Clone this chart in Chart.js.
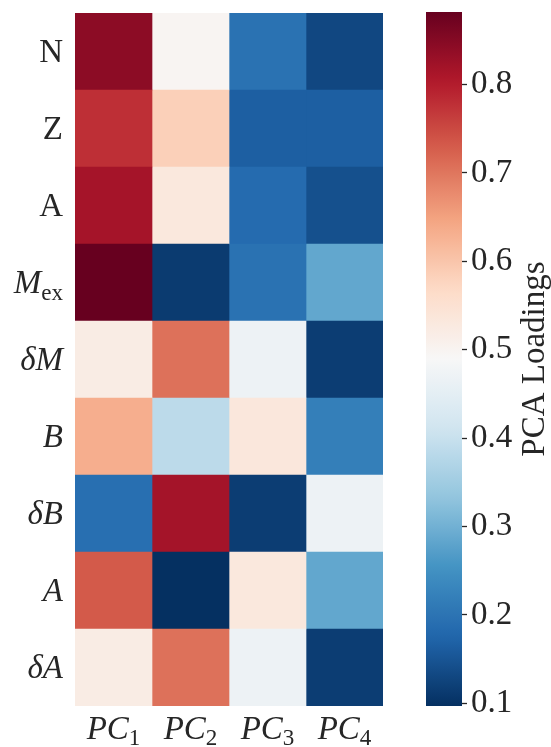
<!DOCTYPE html>
<html>
<head>
<meta charset="utf-8">
<script src="https://cdn.jsdelivr.net/npm/chart.js@4/dist/chart.umd.min.js"></script>
<style>
  html, body { margin: 0; padding: 0; background: #ffffff; }
  #wrap { position: relative; width: 551px; height: 747px; overflow: hidden; }
  #heat { position: absolute; left: 0; top: 0; }
  #cbar { position: absolute; left: 400px; top: 0; }
</style>
</head>
<body>
<div id="wrap">
  <canvas id="heat" width="420" height="747"></canvas>
  <canvas id="cbar" width="151" height="747"></canvas>
</div>
<script>
// Feature names (rows) and principal components (columns)
const rowLabels = ['N', 'Z', 'A', '$M_{\\rm ex}$', '$\\delta M$', '$B$', '$\\delta B$', '$A$', '$\\delta A$'];
const colLabels = ['$PC_1$', '$PC_2$', '$PC_3$', '$PC_4$'];

// Loadings of each feature on each component
const pc1 = [0.843, 0.778, 0.817, 0.882, 0.520, 0.633, 0.192, 0.731, 0.520];
const pc2 = [0.497, 0.584, 0.532, 0.113, 0.706, 0.385, 0.818, 0.097, 0.706];
const pc3 = [0.196, 0.165, 0.185, 0.196, 0.469, 0.534, 0.116, 0.532, 0.469];
const pc4 = [0.131, 0.165, 0.143, 0.285, 0.116, 0.219, 0.469, 0.285, 0.116];

// Colour bar ticks and title
const cbarTicks = [0.1, 0.2, 0.3, 0.4, 0.5, 0.6, 0.7, 0.8];
const cbarTitle = 'PCA Loadings';

const components = [pc1, pc2, pc3, pc4];
const allVals = components.flat();
const vmin = Math.min(...allVals);
const vmax = Math.max(...allVals);

// RdBu_r colour map (ColorBrewer RdBu, reversed: low = blue, high = red)
const RDBU_R = [
  [5, 48, 97], [33, 102, 172], [67, 147, 195], [146, 197, 222], [209, 229, 240],
  [247, 247, 247], [253, 219, 199], [244, 165, 130], [214, 96, 77], [178, 24, 43], [103, 0, 31]
];
function cmap(t) {
  t = Math.min(1, Math.max(0, t));
  const p = t * (RDBU_R.length - 1);
  const i = Math.min(RDBU_R.length - 2, Math.floor(p));
  const f = p - i;
  const a = RDBU_R[i], b = RDBU_R[i + 1];
  const c = a.map((v, k) => Math.round(v + (b[k] - v) * f));
  return `rgb(${c[0]},${c[1]},${c[2]})`;
}
const colorOf = v => cmap((v - vmin) / (vmax - vmin));

const TEXT = '#262626';
const FONT_FAMILY = '"Liberation Serif", "Times New Roman", serif';
const FONT_SIZE = 33;

// Tiny math-label parser: letters inside $...$ are italic, _x / _{..} are subscripts
function parseLabel(s) {
  const segs = [];
  const push = (txt, italic, sub) => {
    const last = segs[segs.length - 1];
    if (last && last.italic === italic && last.sub === sub) last.text += txt;
    else segs.push({ text: txt, italic, sub });
  };
  let math = false, i = 0;
  while (i < s.length) {
    const ch = s[i];
    if (ch === '$') { math = !math; i++; continue; }
    if (!math) { push(ch, false, false); i++; continue; }
    if (s.startsWith('\\delta', i)) { push('\u03B4', true, false); i += 6; continue; }
    if (ch === ' ') { i++; continue; }
    if (ch === '_') {
      i++;
      let body;
      if (s[i] === '{') { const j = s.indexOf('}', i); body = s.slice(i + 1, j); i = j + 1; }
      else { body = s[i]; i++; }
      const upright = body.startsWith('\\rm');
      body = body.replace('\\rm', '').trim();
      for (const c of body) push(c, !upright && /[A-Za-z]/.test(c), true);
      continue;
    }
    push(ch, /[A-Za-z]/.test(ch), false);
    i++;
  }
  return segs;
}

function segFont(seg) {
  const size = seg.sub ? FONT_SIZE * 0.7 : FONT_SIZE;
  return `${seg.italic ? 'italic ' : ''}${size}px ${FONT_FAMILY}`;
}

// Draw a parsed label; align = 'right' | 'center', y is the vertical middle
function drawLabel(ctx, label, x, y, align) {
  const segs = parseLabel(label);
  let total = 0;
  const widths = segs.map(sg => { ctx.font = segFont(sg); const w = ctx.measureText(sg.text).width; total += w; return w; });
  let cx = align === 'right' ? x - total : x - total / 2;
  const baseline = y + FONT_SIZE * 0.33;
  ctx.save();
  ctx.fillStyle = TEXT;
  ctx.textBaseline = 'alphabetic';
  ctx.textAlign = 'left';
  segs.forEach((sg, k) => {
    ctx.font = segFont(sg);
    const by = sg.sub ? baseline + FONT_SIZE * 0.2 : baseline;
    ctx.fillText(sg.text, cx, by);
    cx += widths[k];
  });
  ctx.restore();
}

// Axis labels of the heat map, placed from the chart's own scales
const heatLabels = {
  id: 'heatLabels',
  afterDraw(chart) {
    const { ctx, chartArea, scales } = chart;
    rowLabels.forEach((lab, i) => {
      drawLabel(ctx, lab, chartArea.left - 12, scales.y.getPixelForValue(i), 'right');
    });
    colLabels.forEach((lab, c) => {
      drawLabel(ctx, lab, scales.x.getPixelForValue(c + 0.5), chartArea.bottom + 22, 'center');
    });
  }
};

// Heat map: one floating-bar dataset per component, one bar per feature
new Chart(document.getElementById('heat'), {
  type: 'bar',
  data: {
    labels: rowLabels,
    datasets: components.map((vals, c) => ({
      label: colLabels[c],
      data: vals.map(() => [c, c + 1]),
      backgroundColor: vals.map(colorOf),
      borderWidth: 0,
      borderSkipped: false,
      barPercentage: 1,
      categoryPercentage: 1,
      grouped: false
    }))
  },
  options: {
    indexAxis: 'y',
    responsive: false,
    animation: false,
    devicePixelRatio: 1,
    layout: { padding: { left: 75, right: 37, top: 13, bottom: 41 } },
    plugins: { legend: { display: false }, tooltip: { enabled: false } },
    scales: {
      x: { type: 'linear', min: 0, max: colLabels.length, display: false },
      y: { type: 'category', display: false, offset: true }
    }
  },
  plugins: [heatLabels]
});

// Colour bar title drawn vertically, reading bottom to top
const cbarTitlePlugin = {
  id: 'cbarTitle',
  afterDraw(chart) {
    const { ctx, chartArea } = chart;
    ctx.save();
    ctx.translate(chartArea.right + 82, (chartArea.top + chartArea.bottom) / 2);
    ctx.rotate(-Math.PI / 2);
    ctx.font = `${FONT_SIZE}px ${FONT_FAMILY}`;
    ctx.fillStyle = TEXT;
    ctx.textAlign = 'center';
    ctx.textBaseline = 'alphabetic';
    ctx.fillText(cbarTitle, 0, 0);
    ctx.restore();
  }
};

// Colour bar: a single floating bar from vmin to vmax filled with the colour map
new Chart(document.getElementById('cbar'), {
  type: 'bar',
  data: {
    labels: [''],
    datasets: [{
      data: [[vmin, vmax]],
      borderWidth: 0,
      borderSkipped: false,
      barPercentage: 1,
      categoryPercentage: 1,
      backgroundColor(context) {
        const { chart } = context;
        const area = chart.chartArea;
        if (!area) return cmap(0.5);
        const y = chart.scales.y;
        const g = chart.ctx.createLinearGradient(0, y.getPixelForValue(vmin), 0, y.getPixelForValue(vmax));
        const n = 64;
        for (let k = 0; k <= n; k++) g.addColorStop(k / n, cmap(k / n));
        return g;
      }
    }]
  },
  options: {
    responsive: false,
    animation: false,
    devicePixelRatio: 1,
    layout: { padding: { left: 26, right: 0, top: 12, bottom: 41 } },
    plugins: { legend: { display: false }, tooltip: { enabled: false } },
    scales: {
      x: { display: false, offset: true },
      y: {
        position: 'right',
        min: vmin,
        max: vmax,
        afterBuildTicks(scale) { scale.ticks = cbarTicks.map(v => ({ value: v })); },
        afterFit(scale) {
          scale.width = 89;
          scale.paddingTop = 0;
          scale.paddingBottom = 0;
        },
        border: { display: false },
        grid: { drawOnChartArea: false, drawTicks: true, tickLength: 5, tickWidth: 1.3, tickColor: TEXT, color: TEXT },
        ticks: {
          padding: 4,
          color: TEXT,
          font: { family: FONT_FAMILY, size: FONT_SIZE },
          callback: v => Number(v).toFixed(1)
        }
      }
    }
  },
  plugins: [cbarTitlePlugin]
});
</script>
</body>
</html>
